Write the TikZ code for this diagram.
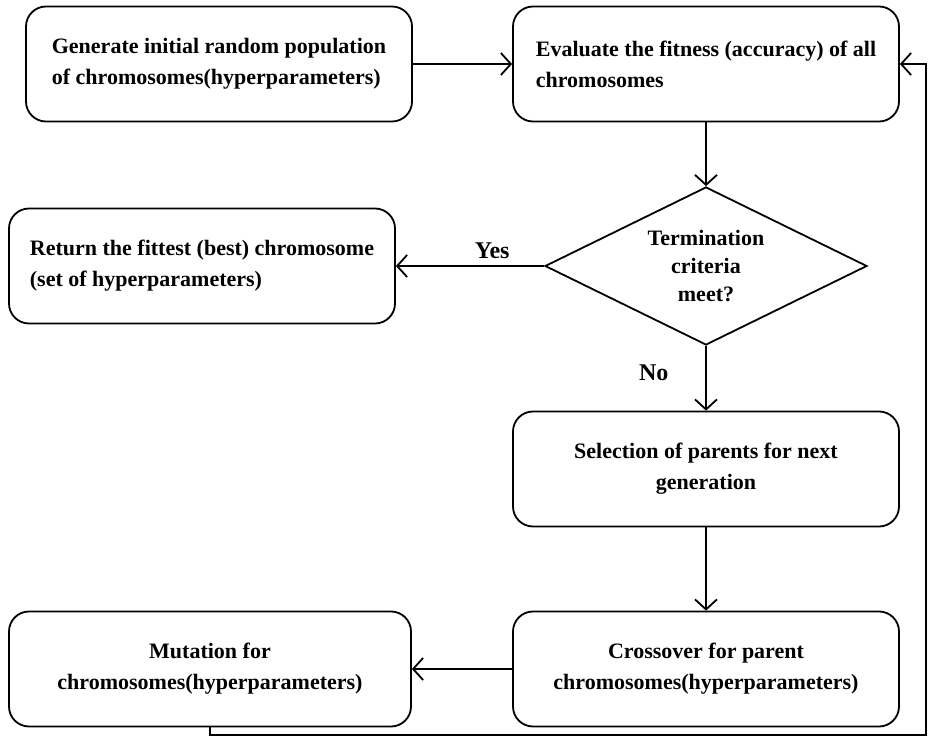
\documentclass[tikz,border=0pt]{standalone}
\usepackage{fontspec}
\setmainfont{Liberation Serif}
\usetikzlibrary{arrows.meta, positioning, shapes.geometric}

\tikzset{
  stage/.style={draw, rounded corners=10pt, minimum width=193pt, minimum height=57.5pt, font=\bfseries\fontsize{11}{15.5}\selectfont},
  check/.style={draw, diamond, aspect=2, inner sep=0pt, minimum width=161pt, minimum height=79pt, align=center, font=\bfseries\fontsize{11}{14}\selectfont},
  answer/.style={font=\bfseries\fontsize{12}{14}\selectfont},
}

\begin{document}
\begin{tikzpicture}[x=0.5pt, y=-0.5pt, line width=0.9pt, >={Straight Barb[length=5pt, width=11pt]}]
\useasboundingbox (0,0) rectangle (928,738);

\node [stage, align=left  ] (init)   at (219,64)  {Generate initial random population\\of chromosomes(hyperparameters)};
\node [stage, align=left  ] (eval)   at (706,64)  {Evaluate the fitness (accuracy) of all\\chromosomes};
\node [check              ] (stop)   at (706,266) {Termination\\criteria\\meet?};
\node [stage, align=left  ] (best)   at (202,266) {Return the fittest (best) chromosome\\(set of hyperparameters)};
\node [stage, align=center] (select) at (706,469) {Selection of parents for next\\generation};
\node [stage, align=center] (cross)  at (706,669) {Crossover for parent\\chromosomes(hyperparameters)};
\node [stage, align=center, minimum width=201pt] (mutate) at (210,669) {Mutation for\\chromosomes(hyperparameters)};

\coordinate (loop) at (926,735);

\path [draw, ->] (init) edge (eval);
\path [draw, ->] (eval) edge (stop);
\path [draw, ->] (stop) edge node [answer, above, pos=0.35] {Yes} (best);
\path [draw, ->] (stop) edge node [answer, left=15pt, pos=0.42] {No} (select);
\path [draw, ->] (select) edge (cross);
\path [draw, ->] (cross) edge (mutate);
\draw [->] (mutate.south) |- (loop) |- (eval.east);

\end{tikzpicture}
\end{document}
